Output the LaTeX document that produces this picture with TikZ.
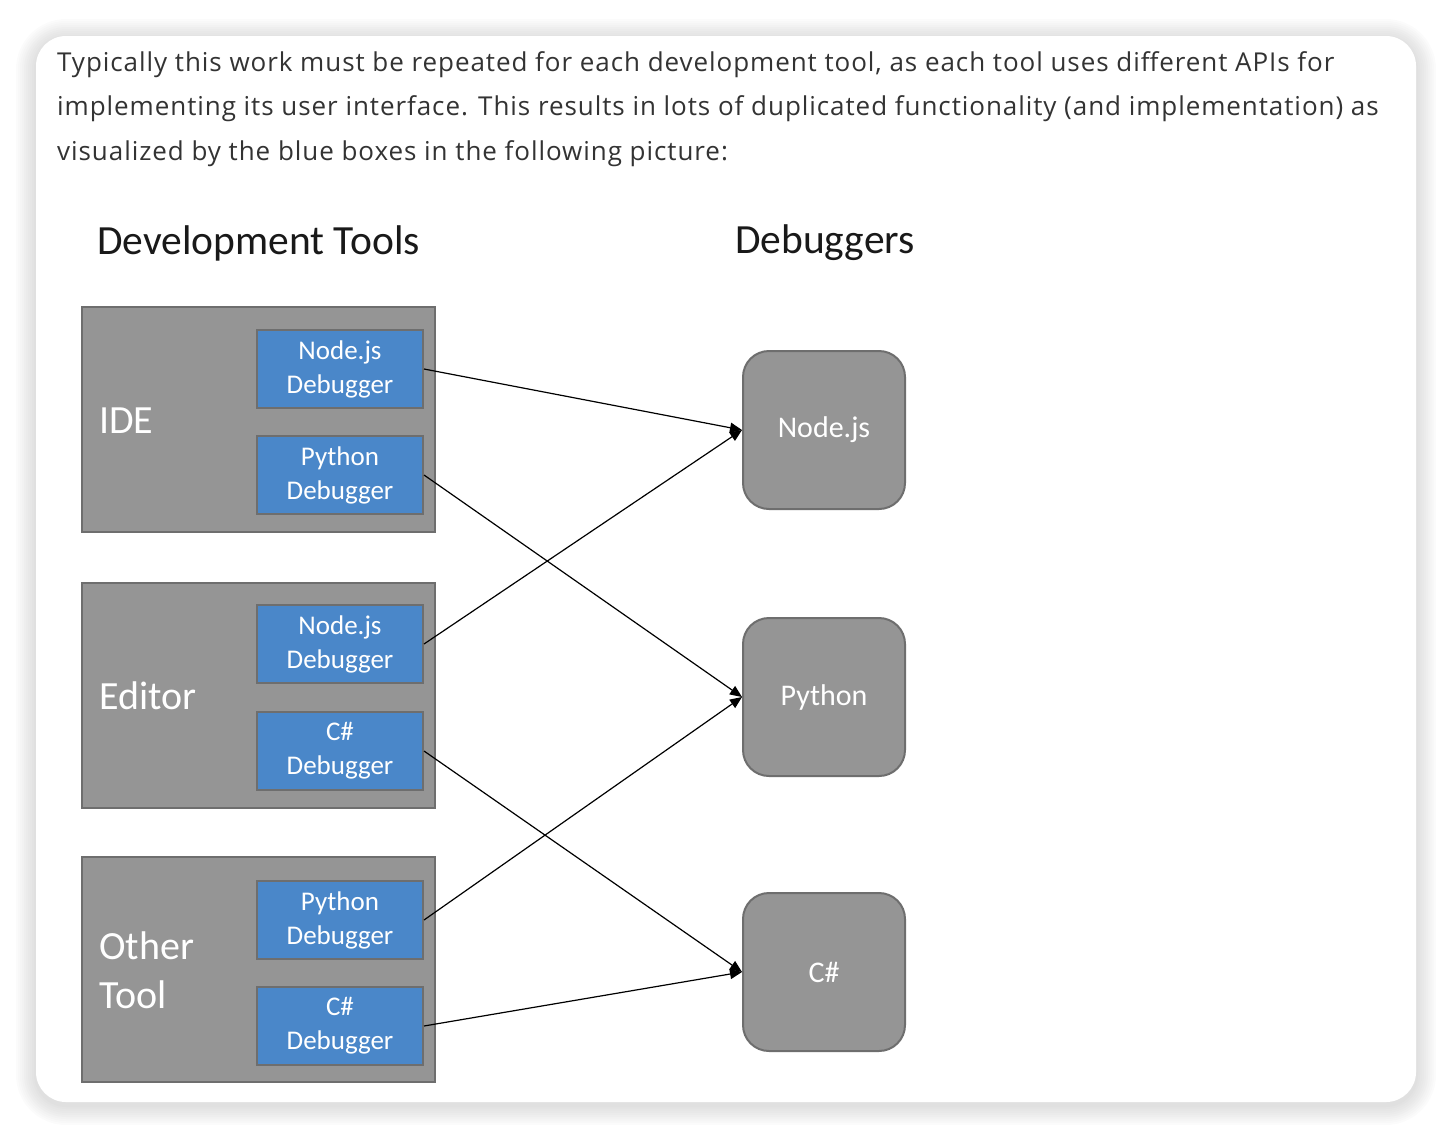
\documentclass[tikz,border=0pt]{standalone}
\usepackage{fontspec}
\setmainfont{Carlito}
\newfontfamily\parafont[LetterSpace=3.6]{Open Sans}
\usetikzlibrary{arrows.meta}
\definecolor{cardshadow}{HTML}{9A9A9A}
\definecolor{boxgray}{HTML}{959595}
\definecolor{boxedge}{HTML}{6E6E6E}
\definecolor{dbgblue}{HTML}{4A87C9}
\definecolor{paratext}{HTML}{333333}
\begin{document}
\begin{tikzpicture}[x=1pt, y=-1pt,
    toolbox/.style={draw=boxedge, line width=2pt, fill=boxgray, minimum width=353pt, minimum height=225pt, inner sep=0pt},
    dbgbox/.style={draw=boxedge, line width=2pt, fill=dbgblue, text=white, minimum width=166pt, minimum height=78pt, inner sep=0pt, align=center, font=\fontsize{27}{34}\selectfont},
    backend/.style={draw=boxedge, line width=2pt, fill=boxgray, text=white, rounded corners=26pt, minimum width=162pt, minimum height=158pt, inner sep=0pt, font=\fontsize{30}{36}\selectfont},
    toollabel/.style={text=white, anchor=west, align=left, inner sep=0pt, font=\fontsize{40}{49}\selectfont},
    heading/.style={text=black!90, anchor=west, inner sep=0pt, font=\fontsize{41.5}{48}\selectfont},
    link/.style={draw=black, line width=1.2pt, -{Triangle[length=12pt,width=10pt]}}]
  \useasboundingbox (0,0) rectangle (1452,1138);
  % Card with soft shadow
  \foreach \s in {20,18,...,2} {
    \fill[cardshadow, opacity=0.035, rounded corners=30pt+\s pt] (36-\s,36-\s+3) rectangle (1416+\s,1102+\s+3);
  }
  \fill[white, rounded corners=30pt] (36,36) rectangle (1416,1102);
  % Intro text
  \node[anchor=north west, align=left, inner sep=0pt, text=paratext,
        font=\parafont\fontsize{26}{44.5}\selectfont] (intro) at (57,51)
    {Typically this work must be repeated for each development tool, as each tool uses different APIs for\\
     implementing its user interface. This results in lots of duplicated functionality (and implementation) as\\
     visualized by the blue boxes in the following picture:};
  % Column headings
  \node[heading] (devhead) at (97,243) {Development Tools};
  \node[heading] (dbghead) at (735,243) {Debuggers};
  % Development tools
  \node[toolbox] (ide) at (258.5,419.5) {};
  \node[toolbox] (editor) at (258.5,695.5) {};
  \node[toolbox] (other) at (258.5,969.5) {};
  \node[toollabel] (idelabel) at (99,421) {IDE};
  \node[toollabel] (editorlabel) at (99,696) {Editor};
  \node[toollabel] (otherlabel) at (99,970) {Other\\Tool};
  % Duplicated debugger front ends
  \node[dbgbox] (ide-node) at (340,369) {Node.js\\Debugger};
  \node[dbgbox] (ide-py) at (340,475) {Python\\Debugger};
  \node[dbgbox] (ed-node) at (340,644) {Node.js\\Debugger};
  \node[dbgbox] (ed-cs) at (340,751) {C\#\\Debugger};
  \node[dbgbox] (ot-py) at (340,920) {Python\\Debugger};
  \node[dbgbox] (ot-cs) at (340,1026) {C\#\\Debugger};
  % Debuggers
  \node[backend] (nodejs) at (824,430) {Node.js};
  \node[backend] (python) at (824,697) {Python};
  \node[backend] (csharp) at (824,972) {C\#};
  % Connections
  \draw[link] (ide-node.east) -- (nodejs.west);
  \draw[link] (ed-node.east) -- (nodejs.west);
  \draw[link] (ide-py.east) -- (python.west);
  \draw[link] (ot-py.east) -- (python.west);
  \draw[link] (ed-cs.east) -- (csharp.west);
  \draw[link] (ot-cs.east) -- (csharp.west);
\end{tikzpicture}
\end{document}
